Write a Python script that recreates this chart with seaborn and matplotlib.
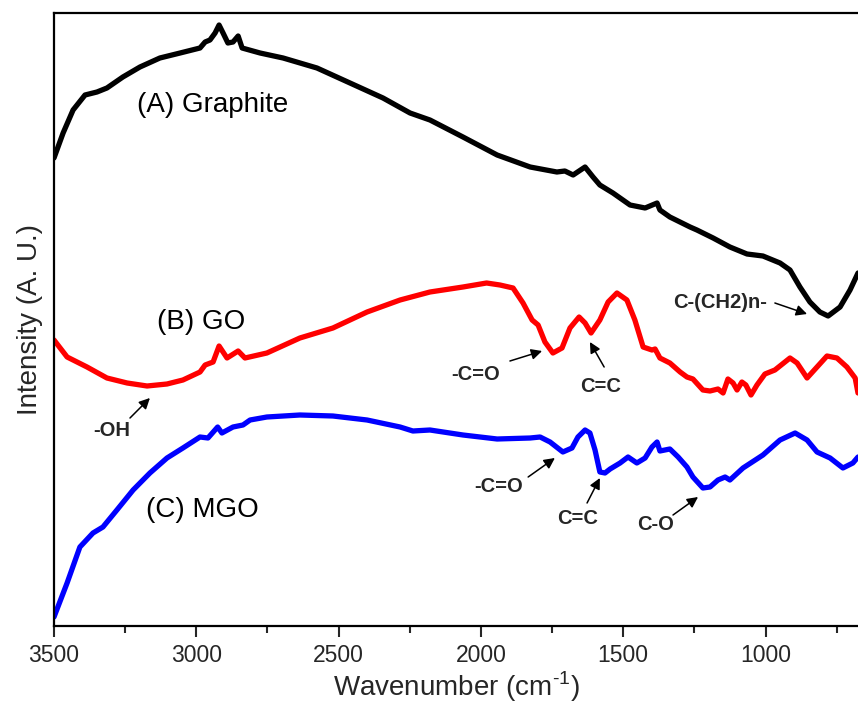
import matplotlib
matplotlib.use("Agg")
import matplotlib.pyplot as plt
from matplotlib.ticker import MultipleLocator
import seaborn as sns
import pandas as pd

# ---- data ----
graphite_wn = [3500, 3468, 3433, 3391, 3349, 3314, 3258, 3198, 3128, 3057, 2987, 2969, 2952,
               2934, 2920, 2906, 2889, 2871, 2853, 2839, 2776, 2695, 2576, 2460, 2344, 2249,
               2179, 2063, 1943, 1827, 1733, 1705, 1676, 1634, 1606, 1582, 1536, 1476, 1423,
               1381, 1371, 1336, 1265, 1241, 1184, 1125, 1065, 1009, 949, 914, 879, 844, 809,
               780, 738, 703, 675]
graphite_int = [468, 493, 516, 531, 534, 538, 549, 559, 568, 573, 578, 584, 586,
                593, 601, 593, 583, 584, 590, 578, 573, 568, 558, 543, 528, 513,
                506, 489, 471, 459, 454, 455, 451, 459, 449, 441, 433, 421, 418,
                423, 416, 409, 399, 396, 388, 379, 372, 370, 363, 356, 339, 324, 314,
                310, 319, 336, 353]

go_wn = [3500, 3454, 3384, 3314, 3243, 3173, 3103, 3047, 2987, 2969, 2941, 2920, 2892,
         2853, 2829, 2752, 2636, 2520, 2400, 2284, 2179, 2063, 1980, 1933, 1887, 1852,
         1820, 1799, 1775, 1747, 1715, 1687, 1655, 1634, 1613, 1582, 1553, 1522, 1487,
         1459, 1430, 1399, 1388, 1371, 1336, 1300, 1276, 1255, 1220, 1195, 1167, 1149,
         1132, 1114, 1100, 1083, 1069, 1051, 1030, 1002, 967, 914, 889, 854, 819, 784,
         749, 714, 685, 675]
go_int = [286, 269, 259, 248, 243, 240, 242, 246, 254, 261, 264, 280, 268,
          275, 268, 273, 288, 298, 314, 326, 334, 339, 343, 341, 338, 323,
          306, 301, 284, 273, 278, 298, 309, 303, 293, 306, 324, 333, 326,
          306, 279, 276, 277, 268, 263, 254, 249, 247, 236, 235, 237, 233,
          247, 243, 236, 244, 241, 231, 241, 252, 256, 268, 263, 248, 259, 270,
          268, 259, 248, 233]

mgo_wn = [3500, 3454, 3409, 3363, 3328, 3279, 3222, 3163, 3103, 3047, 2987, 2959, 2925,
          2910, 2871, 2836, 2811, 2752, 2636, 2520, 2400, 2284, 2239, 2179, 2063, 1943,
          1827, 1792, 1757, 1712, 1680, 1659, 1634, 1617, 1599, 1582, 1564, 1546, 1511,
          1483, 1452, 1423, 1399, 1381, 1371, 1336, 1307, 1276, 1255, 1220, 1195, 1167,
          1142, 1125, 1079, 1009, 949, 896, 854, 819, 773, 728, 693, 675]
mgo_int = [9, 43, 79, 93, 99, 116, 136, 153, 168, 178, 189, 188, 199,
           193, 199, 201, 206, 209, 211, 210, 206, 199, 195, 196, 191, 187,
           188, 189, 184, 174, 178, 189, 196, 193, 176, 154, 153, 157, 163,
           169, 163, 168, 179, 184, 175, 177, 169, 159, 149, 138, 139, 146,
           149, 146, 158, 171, 186, 193, 186, 174, 168, 158, 163, 169]

series_names = ["(A) Graphite", "(B) GO", "(C) MGO"]
series_colors = ["black", "red", "blue"]
label_wn = [2941, 2983, 2980]
label_int = [521, 304, 116]

ann_text = ["-OH", "-C=O", "C=C", "-C=O", "C=C", "C-O", "C-(CH2)n-"]
ann_text_wn = [3296, 2017, 1578, 1936, 1662, 1388, 1160]
ann_text_int = [195, 251, 240, 139, 107, 102, 323]
ann_tail_wn = [3233, 1898, 1567, 1834, 1627, 1325, 967]
ann_tail_int = [208, 265, 259, 149, 123, 111, 323]
ann_head_wn = [3163, 1785, 1617, 1740, 1582, 1237, 854]
ann_head_int = [228, 275, 284, 168, 148, 129, 312]

# ---- style ----
sns.set_style("ticks")
plt.rcParams["font.family"] = ["Liberation Sans", "DejaVu Sans"]
plt.rcParams["mathtext.fontset"] = "custom"
plt.rcParams["mathtext.rm"] = "Liberation Sans"

fig = plt.figure(figsize=(8.58, 7.07), dpi=100)
ax = fig.add_axes([54 / 858, 81 / 707, 1 - 54 / 858, (626 - 13) / 707])

frames = []
for name, wn, it in [(series_names[0], graphite_wn, graphite_int),
                     (series_names[1], go_wn, go_int),
                     (series_names[2], mgo_wn, mgo_int)]:
    frames.append(pd.DataFrame({"wn": wn, "int": it, "sample": name}))
df = pd.concat(frames, ignore_index=True)

sns.lineplot(data=df, x="wn", y="int", hue="sample", units="sample", estimator=None,
             palette=dict(zip(series_names, series_colors)), linewidth=3.8,
             legend=False, ax=ax)
for ln in ax.get_lines():
    ln.set_solid_joinstyle("round")
    ln.set_solid_capstyle("round")

ax.set_xlim(3500, 675)
ax.set_ylim(0, 613)
ax.xaxis.set_major_locator(MultipleLocator(500))
ax.xaxis.set_minor_locator(MultipleLocator(250))
ax.set_yticks([])
ax.tick_params(axis="x", which="major", direction="out", length=8, width=1.5,
               labelsize=16.5, pad=5, top=False)
ax.tick_params(axis="x", which="minor", direction="out", length=5, width=1.5, top=False)
for s in ["left", "bottom", "top"]:
    ax.spines[s].set_linewidth(1.6)
    ax.spines[s].set_color("black")
ax.spines["right"].set_visible(False)

ax.set_xlabel(r"Wavenumber (cm$^{\text{-1}}$)", fontsize=20, labelpad=2)
ax.set_ylabel("Intensity (A. U.)", fontsize=20, labelpad=8)

for name, xw, yi in zip(series_names, label_wn, label_int):
    ax.text(xw, yi, name, fontsize=20, ha="center", va="center", color="black")

for t, tx, ty, sx, sy, hx, hy in zip(ann_text, ann_text_wn, ann_text_int,
                                      ann_tail_wn, ann_tail_int, ann_head_wn, ann_head_int):
    ax.text(tx, ty, t, fontsize=14.5, fontweight="bold", ha="center", va="center")
    ax.annotate("", xy=(hx, hy), xytext=(sx, sy),
                arrowprops=dict(arrowstyle="-|>", color="black", lw=1.1,
                                mutation_scale=16, shrinkA=0, shrinkB=0))

fig.savefig("out.png", dpi=100)
